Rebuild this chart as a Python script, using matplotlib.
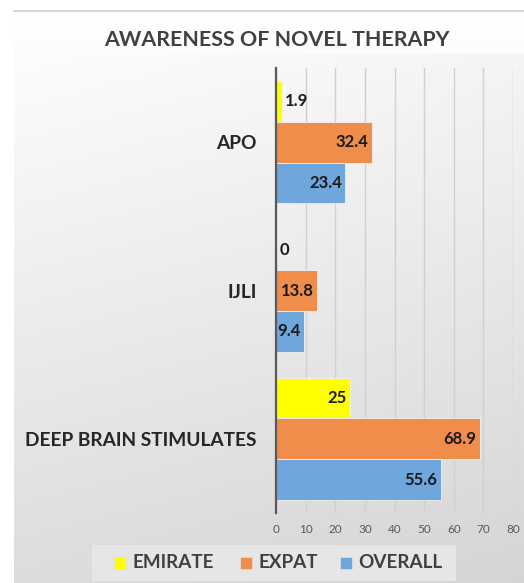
import matplotlib
matplotlib.use("Agg")
import matplotlib.pyplot as plt
import numpy as np
from matplotlib.patches import Rectangle

categories = ["DEEP BRAIN STIMULATES", "IJLI", "APO"]
series_names = ["EMIRATE", "EXPAT", "OVERALL"]
emirate = [25, 0, 1.9]
expat = [68.9, 13.8, 32.4]
overall = [55.6, 9.4, 23.4]
xticks = [0, 10, 20, 30, 40, 50, 60, 70, 80]
title = "AWARENESS OF NOVEL THERAPY"

colors = ["#FFFF00", "#F08D4B", "#6FA6DC"]
FONT = ["Lato", "DejaVu Sans"]
plt.rcParams["font.family"] = FONT

W, H = 524, 583
fig = plt.figure(figsize=(W / 100, H / 100), dpi=100)
fig.patch.set_facecolor("white")

# background gradient panel
bg = fig.add_axes([14 / W, 0, 1 - 14 / W, 1 - 11 / H], zorder=-10)
grad = np.linspace(1.0, 0.865, 256).reshape(-1, 1)
xs = np.linspace(0, 0.03, 64).reshape(1, -1)
img = np.clip(grad - xs * (grad < 0.99), 0, 1)
bg.imshow(np.dstack([img, img, img]), aspect="auto", extent=[0, 1, 0, 1], origin="upper")
bg.set_axis_off()
fig.add_artist(plt.Line2D([14 / W, 1], [1 - 11 / H, 1 - 11 / H], color="#D6D6D6", lw=1.5))

ax = fig.add_axes([276 / W, 1 - 513 / H, (513 - 276) / W, (513 - 68) / H])
ax.set_facecolor("none")
y = np.arange(len(categories))
h = 0.275
series = [emirate, expat, overall]
offsets = [h, 0, -h]
for vals, c, off in zip(series, colors, offsets):
    ax.barh(y + off, vals, height=h, color=c, edgecolor="#F2F2F2", linewidth=0.6, zorder=3)
    for yy, v in zip(y + off, vals):
        lab = f"{v:g}"
        if v < 5:
            ax.text(v + 1.2, yy, lab, ha="left", va="center", fontsize=12, fontweight="bold",
                    color="#1a1a1a", zorder=4)
        else:
            ax.text(v - 1.2, yy, lab, ha="right", va="center", fontsize=12, fontweight="bold",
                    color="#1a1a1a", zorder=4)

ax.set_xlim(0, 80)
ax.set_ylim(-0.5, 2.5)
ax.set_xticks(xticks)
ax.set_xticklabels([str(t) for t in xticks], fontsize=8.5, color="#595959")
ax.set_yticks(y)
ax.set_yticklabels(categories, fontsize=13.8, fontweight="bold", color="#262626")
ax.tick_params(axis="y", length=0, pad=14)
ax.tick_params(axis="x", length=0, pad=8)
ax.grid(axis="x", color="#D0D0D0", lw=1, zorder=0)
for s in ["top", "right", "bottom"]:
    ax.spines[s].set_visible(False)
ax.spines["left"].set_color("#5A5A5A")
ax.spines["left"].set_linewidth(1.6)
ax.spines["left"].set_zorder(5)

fig.text(276.5 / W, 1 - 40 / H, title, ha="center", va="center", fontsize=15.4, fontweight="bold",
         color="#404040")

# legend
lx0, lx1, ly0, ly1 = 92, 456, 545, 581
fig.add_artist(Rectangle((lx0 / W, 1 - ly1 / H), (lx1 - lx0) / W, (ly1 - ly0) / H,
                         transform=fig.transFigure, facecolor="#E6E6E6", edgecolor="none"))
items = [(114, "EMIRATE"), (240, "EXPAT"), (340, "OVERALL")]
for (sx, name), c in zip(items, colors):
    fig.add_artist(Rectangle((sx / W, 1 - 569 / H), 12 / W, 12 / H, transform=fig.transFigure,
                             facecolor=c, edgecolor="#E0E0E0", lw=0.5))
    fig.text((sx + 18) / W, 1 - 563 / H, name, ha="left", va="center", fontsize=13.6,
             fontweight="bold", color="#404040")

fig.savefig("out.png", dpi=100)
